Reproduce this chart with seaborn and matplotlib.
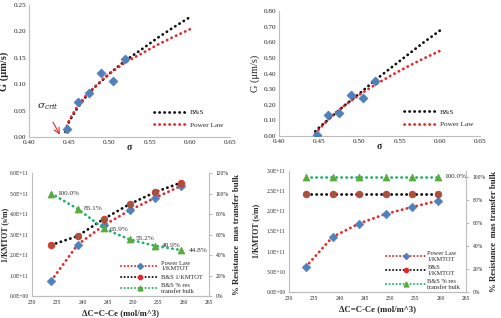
import numpy as np
import matplotlib
matplotlib.use("Agg")
import matplotlib.pyplot as plt
import seaborn as sns
from matplotlib.lines import Line2D
from matplotlib.ticker import FuncFormatter, MultipleLocator

# ---- data ----
sigma_exp = [0.447, 0.461, 0.475, 0.489, 0.505, 0.520]
G_exp_a = [0.016, 0.066, 0.083, 0.121, 0.106, 0.148]
G_exp_b = [0.010, 0.135, 0.148, 0.265, 0.243, 0.350]

sigma_fit = [0.445, 0.45, 0.46, 0.47, 0.48, 0.50, 0.52, 0.54, 0.56, 0.58, 0.60]
G_bs_a = [0.010, 0.030, 0.055, 0.075, 0.092, 0.120, 0.145, 0.166, 0.188, 0.208, 0.227]
G_pl_a = [0.012, 0.032, 0.058, 0.077, 0.093, 0.120, 0.142, 0.158, 0.175, 0.190, 0.204]
G_bs_b = [0.030, 0.055, 0.100, 0.145, 0.190, 0.272, 0.360, 0.440, 0.520, 0.600, 0.675]
G_pl_b = [0.015, 0.045, 0.100, 0.148, 0.190, 0.265, 0.330, 0.390, 0.445, 0.497, 0.545]

dC_a = [233.8, 239.0, 244.2, 249.3, 254.4, 259.5]
kinv_pl_a = [0.75e11, 2.50e11, 3.45e11, 4.18e11, 4.80e11, 5.37e11]
kinv_bs_a = [2.49e11, 2.92e11, 3.76e11, 4.48e11, 5.07e11, 5.53e11]
res_a = [100.0, 85.1, 65.9, 55.2, 48.9, 44.8]

dC_b = [233.3, 238.6, 243.8, 249.1, 254.3, 259.5]
kinv_pl_b = [0.62e11, 1.36e11, 1.69e11, 1.93e11, 2.10e11, 2.26e11]
kinv_bs_b = [2.43e11, 2.43e11, 2.43e11, 2.43e11, 2.43e11, 2.43e11]
res_b = [100.0, 100.0, 100.0, 100.0, 100.0, 100.0]

# ---- style ----
sns.set_style("white")
plt.rcParams['font.family'] = ['Liberation Serif', 'DejaVu Serif']
plt.rcParams['mathtext.fontset'] = 'dejavuserif'

BLUE = '#4f81bd'
RED = '#e8262a'
BLACK = '#111111'
GREEN = '#1fb46a'
TRI = '#5aab3c'
BROWN = '#9a5a3a'
SPINE = '#bdbdbd'
DOT = (0, (0.1, 1.7))
LW = 2.0
FS = 5.2
FSB = 4.0

fig = plt.figure(figsize=(5.01, 3.18), dpi=100)


def dline(color):
    return dict(color=color, lw=LW, linestyle=DOT, dash_capstyle='round')


def style_axes(ax, fs, pad=2):
    for s in ['top', 'right']:
        ax.spines[s].set_visible(False)
    for s in ['left', 'bottom']:
        ax.spines[s].set_color(SPINE)
        ax.spines[s].set_linewidth(0.8)
    ax.tick_params(labelsize=fs, length=0, pad=pad)


def sci(v, pos):
    if v == 0:
        return '0.0E+00'
    e = int(np.floor(np.log10(abs(v))))
    return f"{v / 10**e:.1f}E+{e:02d}"


def top_panel(rect, G_exp, G_bs, G_pl, ymax, ystep, ylab_bold):
    ax = fig.add_axes(rect)
    sns.lineplot(x=sigma_fit, y=G_bs, ax=ax, sort=False, **dline(BLACK))
    sns.lineplot(x=sigma_fit, y=G_pl, ax=ax, sort=False, **dline(RED))
    sns.scatterplot(x=sigma_exp, y=G_exp, ax=ax, color=BLUE, marker='D', s=22, edgecolor=BLUE, zorder=5)
    ax.set_xlim(0.40, 0.65)
    ax.set_ylim(0, ymax)
    ax.xaxis.set_major_locator(MultipleLocator(0.05))
    ax.yaxis.set_major_locator(MultipleLocator(ystep))
    ax.xaxis.set_major_formatter(FuncFormatter(lambda v, p: f"{v:.2f}"))
    ax.yaxis.set_major_formatter(FuncFormatter(lambda v, p: f"{v:.2f}"))
    style_axes(ax, FS)
    ax.set_xlabel('σ', fontsize=7, fontweight='bold', labelpad=-1)
    ax.set_ylabel('G (μm/s)', fontsize=7.5, fontweight='bold' if ylab_bold else 'normal', labelpad=3)
    handles = [Line2D([], [], **dline(BLACK)), Line2D([], [], **dline(RED))]
    ax.legend(handles, ['B&S', 'Power Law'], loc='lower right', bbox_to_anchor=(1.0, 0.02),
              frameon=False, fontsize=FS, handlelength=4.6, labelspacing=0.9, handletextpad=0.4)
    return ax


ax1 = top_panel([0.058, 0.569, 0.401, 0.415], G_exp_a, G_bs_a, G_pl_a, 0.25, 0.05, True)
ax1.annotate('', xy=(0.44, 0.0), xytext=(0.428, 0.033),
             arrowprops=dict(arrowstyle='->', color=RED, lw=0.8))
ax1.text(0.424, 0.047, r'$\sigma_{crit}$', fontsize=7.5, ha='center', va='bottom')

ax2 = top_panel([0.557, 0.572, 0.401, 0.393], G_exp_b, G_bs_b, G_pl_b, 0.80, 0.10, False)


def bottom_panel(rect, dC, kpl, kbs, res, lmax, lstep, rmax, labels, bs_label, ylab_x):
    ax = fig.add_axes(rect)
    sns.lineplot(x=dC, y=kpl, ax=ax, **dline(RED))
    sns.lineplot(x=dC, y=kbs, ax=ax, **dline(BLACK))
    sns.scatterplot(x=dC, y=kpl, ax=ax, color=BLUE, marker='D', s=20, edgecolor=BLUE, zorder=5)
    sns.scatterplot(x=dC, y=kbs, ax=ax, color=BROWN, marker='o', s=22, edgecolor=RED, linewidth=0.6, zorder=5)
    ax.set_xlim(230, 265)
    ax.set_ylim(0, lmax)
    ax.xaxis.set_major_locator(MultipleLocator(5))
    ax.yaxis.set_major_locator(MultipleLocator(lstep))
    ax.yaxis.set_major_formatter(FuncFormatter(sci))
    style_axes(ax, FSB, pad=3)
    ax.tick_params(axis='y', pad=2.5)
    ax.set_xlabel('ΔC=C-Ce (mol/m^3)', fontsize=6.3, fontweight='bold', labelpad=3)
    ax.set_ylabel('1/KMTOT (s/m)', fontsize=5.6, fontweight='bold')
    ax.yaxis.set_label_coords(ylab_x, 0.5)

    axr = ax.twinx()
    sns.lineplot(x=dC, y=res, ax=axr, **dline(GREEN))
    sns.scatterplot(x=dC, y=res, ax=axr, color=TRI, marker='^', s=26, edgecolor=TRI, zorder=5)
    axr.set_ylim(0, rmax)
    axr.yaxis.set_major_locator(MultipleLocator(20))
    axr.yaxis.set_major_formatter(FuncFormatter(lambda v, p: f"{v:.0f}%"))
    axr.set_xlim(230, 265)
    for s in ['top', 'left']:
        axr.spines[s].set_visible(False)
    for s in ['right', 'bottom']:
        axr.spines[s].set_color(SPINE)
        axr.spines[s].set_linewidth(0.8)
    axr.tick_params(labelsize=FSB, length=2, color=SPINE, pad=3)
    axr.set_ylabel('% Resistance  mas transfer bulk', fontsize=6.3, fontweight='bold',
                   rotation=90, labelpad=3)
    for x, y, t in labels:
        axr.text(x, y, t, fontsize=FS, va='center', ha='left', color='#333333')

    handles = [Line2D([], [], marker='D', markersize=3, markerfacecolor=BLUE,
                      markeredgecolor=BLUE, **dline(RED)),
               Line2D([], [], marker='o', markersize=3, markerfacecolor=RED,
                      markeredgecolor=RED, **dline(BLACK)),
               Line2D([], [], marker='^', markersize=3.5, markerfacecolor=TRI,
                      markeredgecolor=TRI, **dline(GREEN))]
    for h in handles:
        h.set_linewidth(1.4)
    axr.legend(handles, ['Power Law\n1/KMTOT', bs_label, 'B&S % res\ntransfer bulk'],
               loc='lower right', bbox_to_anchor=(1.0, -0.03), frameon=False, fontsize=4.6,
               handlelength=6, labelspacing=0.5, handletextpad=0.4)
    return ax, axr


lab_a = [(dC_a[0] + 1.2, res_a[0], '100.0%'), (dC_a[1] + 1.2, res_a[1], '85.1%'),
         (dC_a[2] + 1.2, res_a[2] - 1, '65.9%'), (dC_a[3] + 1.2, res_a[3] + 1, '55.2%'),
         (dC_a[4] + 1.2, res_a[4] + 0.5, '48.9%'), (dC_a[5] + 1.5, res_a[5], '44.8%')]
bottom_panel([0.064, 0.069, 0.353, 0.387], dC_a, kinv_pl_a, kinv_bs_a, res_a,
             6.0e11, 1.0e11, 120, lab_a, 'B&S 1/KMTOT', -0.128)

lab_b = [(dC_b[5] + 1.3, res_b[5], '100.0%')]
bottom_panel([0.577, 0.082, 0.353, 0.381], dC_b, kinv_pl_b, kinv_bs_b, res_b,
             3.0e11, 0.5e11, 105, lab_b, 'B&S\n1/KMTOT', -0.165)

fig.savefig('out.png', dpi=100)
